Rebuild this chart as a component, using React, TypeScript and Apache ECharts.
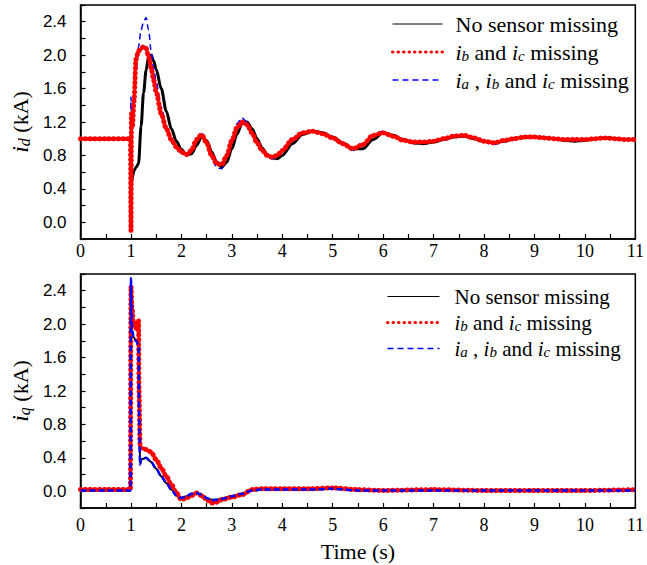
import React, { useEffect, useRef } from 'react';
import * as echarts from 'echarts';

// ---- top panel: i_d (kA) ----
const tD = [0, 0.5, 0.99, 1.0, 1.01, 1.03, 1.06, 1.1, 1.15, 1.2, 1.25, 1.3, 1.35, 1.4, 1.45, 1.5, 1.6, 1.7, 1.8, 1.9, 2.0, 2.1, 2.2, 2.3, 2.4, 2.5, 2.6, 2.7, 2.8, 2.9, 3.0, 3.1, 3.2, 3.3, 3.4, 3.5, 3.6, 3.7, 3.8, 3.9, 4.0, 4.2, 4.4, 4.6, 4.8, 5.0, 5.2, 5.4, 5.6, 5.8, 6.0, 6.2, 6.4, 6.6, 6.8, 7.0, 7.2, 7.4, 7.6, 7.8, 8.0, 8.2, 8.4, 8.6, 8.8, 9.0, 9.2, 9.4, 9.6, 9.8, 10.0, 10.2, 10.4, 10.6, 10.8, 11];
const idNone = [1.0, 1.0, 1.0, 0.98, 0.45, 0.55, 0.62, 0.66, 0.7, 1.15, 1.55, 1.82, 1.98, 2.0, 1.93, 1.83, 1.6, 1.33, 1.12, 0.97, 0.87, 0.81, 0.82, 0.92, 1.02, 0.98, 0.84, 0.72, 0.66, 0.72, 0.88, 1.05, 1.18, 1.2, 1.12, 1.0, 0.89, 0.81, 0.77, 0.76, 0.8, 0.94, 1.05, 1.09, 1.07, 1.02, 0.95, 0.88, 0.88, 0.99, 1.07, 1.04, 0.99, 0.95, 0.94, 0.96, 0.99, 1.02, 1.03, 1.0, 0.97, 0.95, 0.97, 1.0, 1.02, 1.02, 1.01, 1.0, 0.98, 0.97, 0.98, 1.0, 1.01, 1.0, 0.99, 0.99];
const idBC = [1.0, 1.0, 1.0, -0.1, 1.3, 1.15, 1.45, 1.95, 2.05, 2.08, 2.1, 2.08, 1.98, 1.85, 1.7, 1.56, 1.3, 1.12, 0.99, 0.9, 0.84, 0.81, 0.86, 0.99, 1.05, 0.95, 0.8, 0.7, 0.69, 0.8, 0.98, 1.13, 1.2, 1.17, 1.07, 0.95, 0.86, 0.8, 0.78, 0.8, 0.86, 0.99, 1.07, 1.09, 1.06, 1.01, 0.94, 0.88, 0.93, 1.04, 1.07, 1.03, 0.98, 0.96, 0.96, 0.97, 1.0, 1.03, 1.04, 1.01, 0.97, 0.95, 0.98, 1.0, 1.02, 1.02, 1.01, 1.0, 0.99, 0.99, 0.99, 1.0, 1.01, 1.0, 0.99, 0.99];
const idABC = [1.0, 0.99, 1.0, 1.5, 1.2, 1.35, 1.55, 1.8, 2.1, 2.3, 2.4, 2.45, 2.3, 2.05, 1.85, 1.68, 1.38, 1.15, 1.0, 0.9, 0.83, 0.8, 0.86, 1.0, 1.07, 0.95, 0.78, 0.65, 0.64, 0.78, 0.98, 1.18, 1.25, 1.2, 1.08, 0.95, 0.85, 0.78, 0.76, 0.79, 0.86, 1.0, 1.08, 1.1, 1.06, 1.0, 0.93, 0.86, 0.93, 1.05, 1.09, 1.03, 0.98, 0.96, 0.96, 0.97, 1.0, 1.03, 1.05, 1.01, 0.97, 0.93, 0.98, 1.0, 1.02, 1.02, 1.01, 1.0, 0.99, 0.99, 0.99, 1.0, 1.01, 1.0, 0.99, 0.99];

// ---- bottom panel: i_q (kA) ----
const tQ = [0, 0.5, 0.99, 1.0, 1.02, 1.05, 1.1, 1.15, 1.16, 1.18, 1.2, 1.3, 1.4, 1.5, 1.6, 1.7, 1.8, 1.9, 2.0, 2.1, 2.2, 2.3, 2.4, 2.5, 2.6, 2.7, 2.8, 3.0, 3.2, 3.4, 3.6, 3.8, 4.0, 4.5, 5.0, 5.5, 6.0, 7, 8, 9, 10, 11];
const iqNone = [0.01, 0.01, 0.01, 2.5, 1.9, 1.85, 1.8, 1.75, 1.0, 0.33, 0.38, 0.4, 0.35, 0.27, 0.18, 0.1, 0.02, -0.05, -0.08, -0.06, -0.03, -0.02, -0.04, -0.08, -0.1, -0.1, -0.09, -0.06, -0.03, 0.01, 0.02, 0.02, 0.02, 0.02, 0.03, 0.01, 0.01, 0.01, 0.01, 0.01, 0.01, 0.01];
const iqBC = [0.02, 0.02, 0.02, 2.45, 2.2, 2.0, 1.95, 2.05, 1.2, 0.55, 0.52, 0.5, 0.47, 0.38, 0.28, 0.18, 0.08, -0.02, -0.1, -0.08, -0.05, -0.02, -0.05, -0.1, -0.14, -0.13, -0.1, -0.07, -0.04, 0.02, 0.03, 0.03, 0.03, 0.03, 0.04, 0.02, 0.01, 0.02, 0.01, 0.01, 0.01, 0.02];
const iqABC = [0.01, 0.01, 0.01, 2.55, 1.95, 1.85, 1.8, 1.75, 1.0, 0.32, 0.38, 0.4, 0.35, 0.27, 0.18, 0.1, 0.02, -0.05, -0.08, -0.06, -0.03, -0.02, -0.04, -0.08, -0.11, -0.1, -0.09, -0.06, -0.03, 0.01, 0.02, 0.02, 0.02, 0.02, 0.03, 0.01, 0.01, 0.01, 0.01, 0.01, 0.01, 0.01];

const seriesNames = ['No sensor missing', 'ib and ic missing', 'ia , ib and ic missing'];
const legendLabels: Record<string, string> = {
  'No sensor missing': '{n|No sensor missing}',
  'ib and ic missing': '{i|i}{s|b}{n| and }{i|i}{s|c}{n| missing}',
  'ia , ib and ic missing': '{i|i}{s|a}{n| , }{i|i}{s|b}{n| and }{i|i}{s|c}{n| missing}',
};

const SERIF = "'Liberation Serif', 'Times New Roman', 'DejaVu Serif', serif";
const SANS = "'Liberation Sans', Arial, sans-serif";

const zip = (t: number[], v: number[]) => t.map((x, i) => [x, v[i]]);

function legendRich(fs: number) {
  return {
    n: { fontFamily: SERIF, fontSize: fs, lineHeight: fs, color: '#000' },
    i: { fontFamily: SERIF, fontStyle: 'italic', fontSize: fs, lineHeight: fs, color: '#000' },
    s: { fontFamily: SERIF, fontStyle: 'italic', fontSize: Math.round(fs * 0.7), lineHeight: 12, verticalAlign: 'bottom', color: '#000' },
  };
}

function makeLegend(left: number, top: number, fs: number, gap: number, iw: number, pad: number) {
  return {
    orient: 'vertical',
    left,
    top,
    padding: 0,
    itemWidth: iw,
    itemHeight: 14,
    itemGap: gap,
    selectedMode: false,
    formatter: (n: string) => legendLabels[n] || n,
    textStyle: { fontFamily: SERIF, fontSize: fs, color: '#000', rich: legendRich(fs), padding: [0, 0, 0, pad] },
    data: [
      { name: seriesNames[0], itemStyle: { opacity: 0 }, lineStyle: { color: '#000', width: 1, type: 'solid' } },
      { name: seriesNames[1], itemStyle: { opacity: 0 }, lineStyle: { color: '#ff0000', width: 3, type: [0.5, 5], cap: 'round' } },
      { name: seriesNames[2], itemStyle: { opacity: 0 }, lineStyle: { color: '#0000ff', width: 1.5, type: [6, 4] } },
    ],
  };
}

function xAxis(gridIndex: number, margin: number, withName: boolean) {
  return {
    type: 'value',
    gridIndex,
    min: 0,
    max: 11,
    interval: 1,
    axisLine: { show: true, onZero: false, lineStyle: { color: '#000', width: 1.5 } },
    axisTick: { show: true, inside: true, length: 5, lineStyle: { color: '#000', width: 1.2 } },
    minorTick: { show: true, splitNumber: 2, length: 5, lineStyle: { color: '#000', width: 1.2 } },
    splitLine: { show: false },
    minorSplitLine: { show: false },
    axisLabel: { color: '#000', fontFamily: SERIF, fontSize: 18, margin },
    name: withName ? 'Time (s)' : '',
    nameLocation: 'middle',
    nameGap: 32,
    nameTextStyle: { color: '#000', fontFamily: SERIF, fontSize: 22 },
  };
}

function yAxis(gridIndex: number, sub: string) {
  return {
    type: 'value',
    gridIndex,
    min: -0.2,
    max: 2.6,
    interval: 0.2,
    axisLine: { show: true, onZero: false, lineStyle: { color: '#000', width: 1.5 } },
    axisTick: { show: true, inside: true, length: 5, lineStyle: { color: '#000', width: 1.2 } },
    splitLine: { show: false },
    axisLabel: {
      color: '#000',
      fontFamily: SANS,
      fontSize: 17,
      margin: 14,
      formatter: (v: number) => {
        const k = Math.round(v * 10);
        if (k >= 0 && k <= 24 && k % 4 === 0) return (k / 10).toFixed(1);
        return '';
      },
    },
    name: `{i|i}{s|${sub}}{n| (kA)}`,
    nameLocation: 'middle',
    nameRotate: 90,
    nameGap: 46,
    nameTextStyle: {
      fontFamily: SERIF,
      fontSize: 22,
      color: '#000',
      rich: {
        n: { fontFamily: SERIF, fontSize: 22, lineHeight: 24, color: '#000' },
        i: { fontFamily: SERIF, fontStyle: 'italic', fontSize: 24, lineHeight: 24, color: '#000' },
        s: { fontFamily: SERIF, fontStyle: 'italic', fontSize: 16, lineHeight: 12, verticalAlign: 'bottom', color: '#000' },
      },
    },
  };
}

function line(name: string, idx: number, data: number[][], style: any, z: number) {
  return {
    type: 'line',
    name,
    xAxisIndex: idx,
    yAxisIndex: idx,
    data,
    showSymbol: false,
    symbol: 'none',
    smooth: 0.3,
    smoothMonotone: 'x',
    lineStyle: style,
    itemStyle: { color: style.color },
    z,
  };
}

const blackStyleTop = { color: '#000', width: 3 };
const blackStyleBot = { color: '#000', width: 2 };
const redStyle = { color: '#ff0000', width: 5, type: [0.5, 4.2], cap: 'round' };
const blueStyleTop = { color: '#0000ff', width: 1.5, type: [6, 4] };
const blueStyleBot = { color: '#0000ff', width: 2.5, type: [6, 3] };

const option = {
  animation: false,
  backgroundColor: '#fff',
  grid: [
    { left: 74, top: 5, width: 565, height: 234, show: true, borderColor: '#000', borderWidth: 1.5, backgroundColor: 'transparent' },
    { left: 74, top: 274, width: 565, height: 234, show: true, borderColor: '#000', borderWidth: 1.5, backgroundColor: 'transparent' },
  ],
  legend: [makeLegend(391, 13, 22, 6, 50, 8), makeLegend(386, 286, 21, 5, 52, 10)],
  xAxis: [xAxis(0, 3, false), xAxis(1, 8, true)],
  yAxis: [yAxis(0, 'd'), yAxis(1, 'q')],
  series: [
    line(seriesNames[0], 0, zip(tD, idNone), blackStyleTop, 2),
    line(seriesNames[2], 0, zip(tD, idABC), blueStyleTop, 3),
    line(seriesNames[1], 0, zip(tD, idBC), redStyle, 4),
    line(seriesNames[0], 1, zip(tQ, iqNone), blackStyleBot, 2),
    line(seriesNames[1], 1, zip(tQ, iqBC), redStyle, 3),
    line(seriesNames[2], 1, zip(tQ, iqABC), blueStyleBot, 4),
  ],
};

export default function App() {
  const ref = useRef<HTMLDivElement>(null);
  useEffect(() => {
    if (!ref.current) return;
    const chart = echarts.init(ref.current, null, { renderer: 'svg' });
    chart.setOption(option as any);
    return () => chart.dispose();
  }, []);
  return (
    <div
      ref={ref}
      style={{ position: 'fixed', left: 0, top: 0, width: 647, height: 565, background: '#fff' }}
    />
  );
}
